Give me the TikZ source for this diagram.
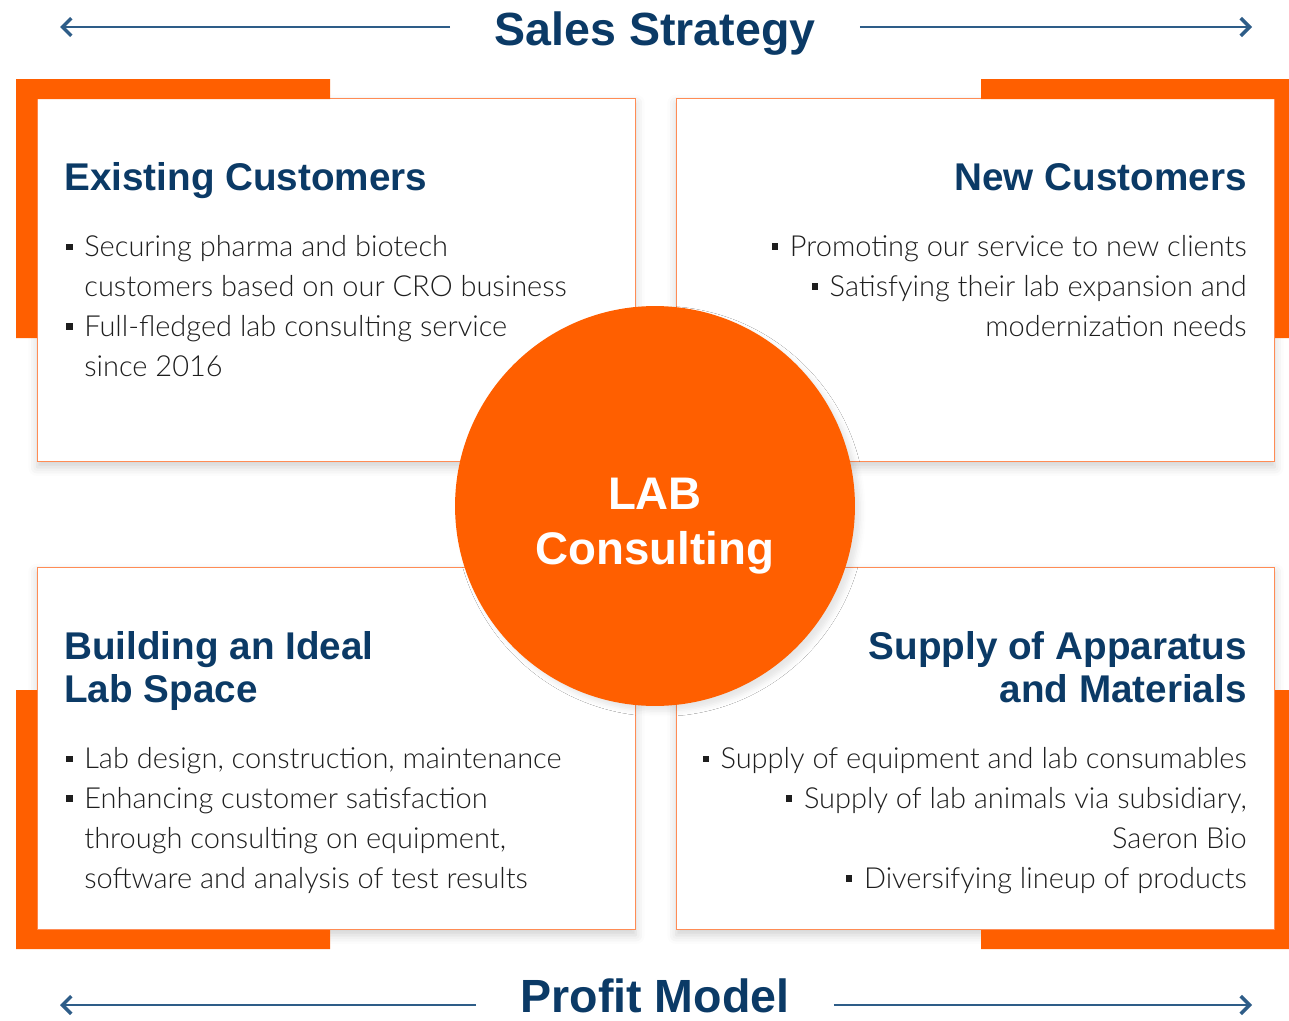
\documentclass[tikz,border=0pt]{standalone}
\usepackage{fontspec}
\setmainfont{Liberation Sans}
\newfontfamily\lightfont{Lato Light}
\usetikzlibrary{arrows.meta,positioning,shadows.blur}

\definecolor{labOrange}{HTML}{FF5F00}
\definecolor{labLine}{HTML}{FF8C55}
\definecolor{labNavy}{HTML}{0B3A66}
\definecolor{labTrack}{HTML}{2E5D88}
\definecolor{labText}{HTML}{1E1E1E}

\newcommand{\bul}{\makebox[0.62em][l]{\rule[0.22em]{0.22em}{0.22em}}}
\newcommand{\cont}{\hspace*{0.62em}}

\tikzset{
  panel/.style={rectangle, draw=labLine, line width=0.6pt, fill=white,
    minimum width=11.98cm,
    blur shadow={shadow xshift=0pt, shadow yshift=-3pt, shadow blur radius=5pt, shadow opacity=18}},
  bracket/.style={fill=labOrange},
  heading/.style={text=labNavy, font=\bfseries\fontsize{22}{24.4}\selectfont, inner sep=0pt},
  bodytext/.style={text=labText, font=\lightfont\fontsize{16.5}{22.7}\selectfont, inner sep=0pt},
  banner/.style={text=labNavy, font=\bfseries\fontsize{26.5}{30}\selectfont, inner xsep=0.88cm, inner ysep=0pt, text depth=0pt},
  track/.style={draw=labTrack, line width=0.9pt, -{Straight Barb[length=5pt,width=10pt,line width=2pt]}},
}

\begin{document}
\begin{tikzpicture}[x=0.02cm, y=-0.02cm]
\useasboundingbox (0,0) rectangle (1289,1021);

% panels
\node[panel, minimum height=7.28cm] (exist) at (336.5,280) {};
\node[panel, minimum height=7.28cm] (new) at (975.5,280) {};
\node[panel, minimum height=7.26cm] (build) at (336.5,748.5) {};
\node[panel, minimum height=7.26cm] (supply) at (975.5,748.5) {};

% orange corner brackets
\fill[bracket] (16,79) -- (330,79) -- (330,99) -- (37,99) -- (37,338) -- (16,338) -- cycle;
\fill[bracket] (1296,79) -- (981,79) -- (981,99) -- (1275,99) -- (1275,338) -- (1296,338) -- cycle;
\fill[bracket] (16,949) -- (330,949) -- (330,930) -- (37,930) -- (37,690) -- (16,690) -- cycle;
\fill[bracket] (1296,949) -- (981,949) -- (981,930) -- (1275,930) -- (1275,690) -- (1296,690) -- cycle;

% headings (base = last line)
\node[heading, anchor=base west] (existHead) at (64,190) {Existing Customers};
\node[heading, anchor=base east] (newHead) at (1247,190) {New Customers};
\node[heading, anchor=base west, align=left] (buildHead) at (64,702) {Building an Ideal\\Lab Space};
\node[heading, anchor=base east, align=right] (supplyHead) at (1247,702) {Supply of Apparatus\\and Materials};

% bullet texts
\node[bodytext, anchor=base west, align=left] (existText) at (66,376)
  {\bul Securing pharma and biotech\\ \cont customers based on our CRO business\\
   \bul Full-fledged lab consulting service\\ \cont since 2016};
\node[bodytext, anchor=base east, align=right] (newText) at (1247,336)
  {\bul Promoting our service to new clients\\ \bul Satisfying their lab expansion and\\
   modernization needs};
\node[bodytext, anchor=base west, align=left] (buildText) at (66,888)
  {\bul Lab design, construction, maintenance\\ \bul Enhancing customer satisfaction\\
   \cont through consulting on equipment,\\ \cont software and analysis of test results};
\node[bodytext, anchor=base east, align=right] (supplyText) at (1247,888)
  {\bul Supply of equipment and lab consumables\\ \bul Supply of lab animals via subsidiary,\\
   Saeron Bio\\ \bul Diversifying lineup of products};

% centre
\node[circle, fill=labOrange, minimum size=8cm, inner sep=0pt,
  blur shadow={shadow xshift=3pt, shadow yshift=-3pt, shadow blur radius=3pt, shadow opacity=10}]
  (lab) at (655,506) {};
\node[align=center, text=white, font=\bfseries\fontsize{26}{31.7}\selectfont]
  (labText) at ([yshift=-0.4cm]lab.center) {LAB\\Consulting};

% top and bottom banners
\node[banner, anchor=base] (sales) at (655,45) {Sales Strategy};
\coordinate (salesL) at (60,27);
\coordinate (salesR) at (1252,27);
\draw[track] (sales.west |- salesL) -- (salesL);
\draw[track] (sales.east |- salesR) -- (salesR);

\node[banner, anchor=base] (profit) at (655,1012) {Profit Model};
\coordinate (profitL) at (60,1005);
\coordinate (profitR) at (1252,1005);
\draw[track] (profit.west |- profitL) -- (profitL);
\draw[track] (profit.east |- profitR) -- (profitR);

\end{tikzpicture}
\end{document}
